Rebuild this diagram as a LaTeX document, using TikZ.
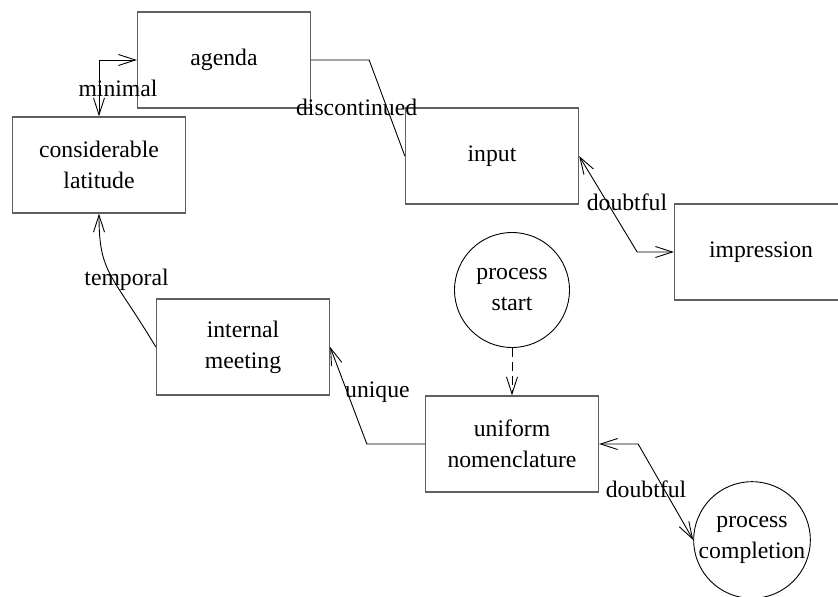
\documentclass[tikz,border=0pt]{standalone}
\usepackage{fontspec}
\setmainfont{Liberation Serif}
\usetikzlibrary{arrows.meta}
\definecolor{frame}{RGB}{95,95,95}
\tikzset{
  box/.style={draw=frame,line width=1.3pt,minimum width=173pt,minimum height=96pt,
    inner sep=0pt,align=center},
  blob/.style={circle,draw=black,line width=0.9pt,minimum size=115pt,inner sep=0pt,align=center},
  link/.style={line width=0.9pt,black},
  hint/.style={link,dash pattern=on 9pt off 5pt},
}
\begin{document}
\begin{tikzpicture}[x=1pt,y=-1pt,font=\fontsize{23.7}{31}\selectfont,
  >={Straight Barb[length=17pt,width=11pt]}]
\useasboundingbox (0,0) rectangle (838,597);
\clip (0,0) rectangle (838,597);
\node[box] (agenda) at (224,60) {agenda};
\node[box] (latitude) at (99,165) {considerable\\latitude};
\node[box] (input) at (492,156) {input};
\node[box] (impression) at (761,252) {impression};
\node[blob] (start) at (512,290) {process\\start};
\node[box] (nomen) at (512,444) {uniform\\nomenclature};
\node[box] (meeting) at (243,347) {internal\\meeting};
\node[blob] (done) at (752,540) {process\\completion};
\draw[link,<->] (agenda.west) -| node[pos=0.75,xshift=19pt]{minimal} (latitude.north);
\draw[link] (agenda.east) -- ++(58,0) -- node[pos=0.49,xshift=-30pt]{discontinued} (input.west);
\draw[link,<->] (input.east) -- node[pos=0.48,xshift=20pt]{doubtful} ++(58,96) -- (impression.west);
\draw[hint,->] (start.south) -- (nomen.north);
\draw[link,->] (nomen.west) -- ++(-58,0) -- node[pos=0.53,xshift=30pt]{unique} (meeting.east);
\draw[link,<->] (nomen.east) -- ++(39,0) -- node[pos=0.47,xshift=-18pt]{doubtful} (done.west);
\draw[link,->] (meeting.west) .. controls +(-45,-75) and +(0,60) ..
  node[pos=0.5,xshift=16pt,yshift=-5pt]{temporal} (latitude.south);
\end{tikzpicture}
\end{document}
